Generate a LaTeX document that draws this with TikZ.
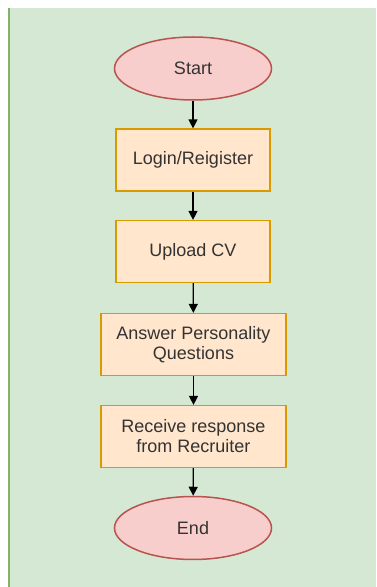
\documentclass[tikz,border=0pt]{standalone}
\usepackage{fontspec}
\setmainfont{Liberation Sans}
\usepackage{tikz}
\usetikzlibrary{arrows.meta,shapes.geometric}
\definecolor{bggreen}{HTML}{D5E8D4}
\definecolor{bgline}{HTML}{82B366}
\definecolor{termfill}{HTML}{F8CECC}
\definecolor{termline}{HTML}{B85450}
\definecolor{stepfill}{HTML}{FFE6CC}
\definecolor{stepline}{HTML}{D79B00}
\definecolor{txtgray}{HTML}{333333}

\begin{document}
\begin{tikzpicture}[x=1pt, y=1pt,
  every node/.style={font=\fontsize{18}{20}\selectfont, text=txtgray, align=center},
  terminal/.style={ellipse, draw=termline, fill=termfill, line width=1.5pt,
                   minimum width=157pt, minimum height=63pt, inner sep=0pt},
  stepbox/.style={rectangle, draw=stepline, fill=stepfill, line width=1.2pt,
                  minimum height=62pt, inner sep=0pt},
  flow/.style={-{Triangle[length=9pt,width=9pt]}, line width=1.3pt, black}]
  \useasboundingbox (0,0) rectangle (376,587);
  % --- background panel ---
  \fill[bggreen] (9,0) rectangle (376,579);
  \draw[bgline, line width=1.2pt] (9,0) -- (9,579);
  % --- terminals ---
  \node[terminal] (start) at (193,518.5) {Start};
  \node[terminal] (end) at (193,59) {End};
  % --- steps ---
  \node[stepbox, minimum width=154pt] (login) at (193,427) {Login/Reigister};
  \node[stepbox, minimum width=154pt] (upload) at (193,335.5) {Upload CV};
  \node[stepbox, minimum width=185pt] (answer) at (193.5,242.5)
    {Answer Personality\\Questions};
  \node[stepbox, minimum width=185pt] (receive) at (193.5,150.5)
    {Receive response\\from Recruiter};
  % --- connectors ---
  \draw[flow] (start) -- (login);
  \draw[flow] (login) -- (upload);
  \draw[flow] (upload) -- (answer);
  \draw[flow] (answer) -- (receive);
  \draw[flow] (receive) -- (end);
\end{tikzpicture}
\end{document}
